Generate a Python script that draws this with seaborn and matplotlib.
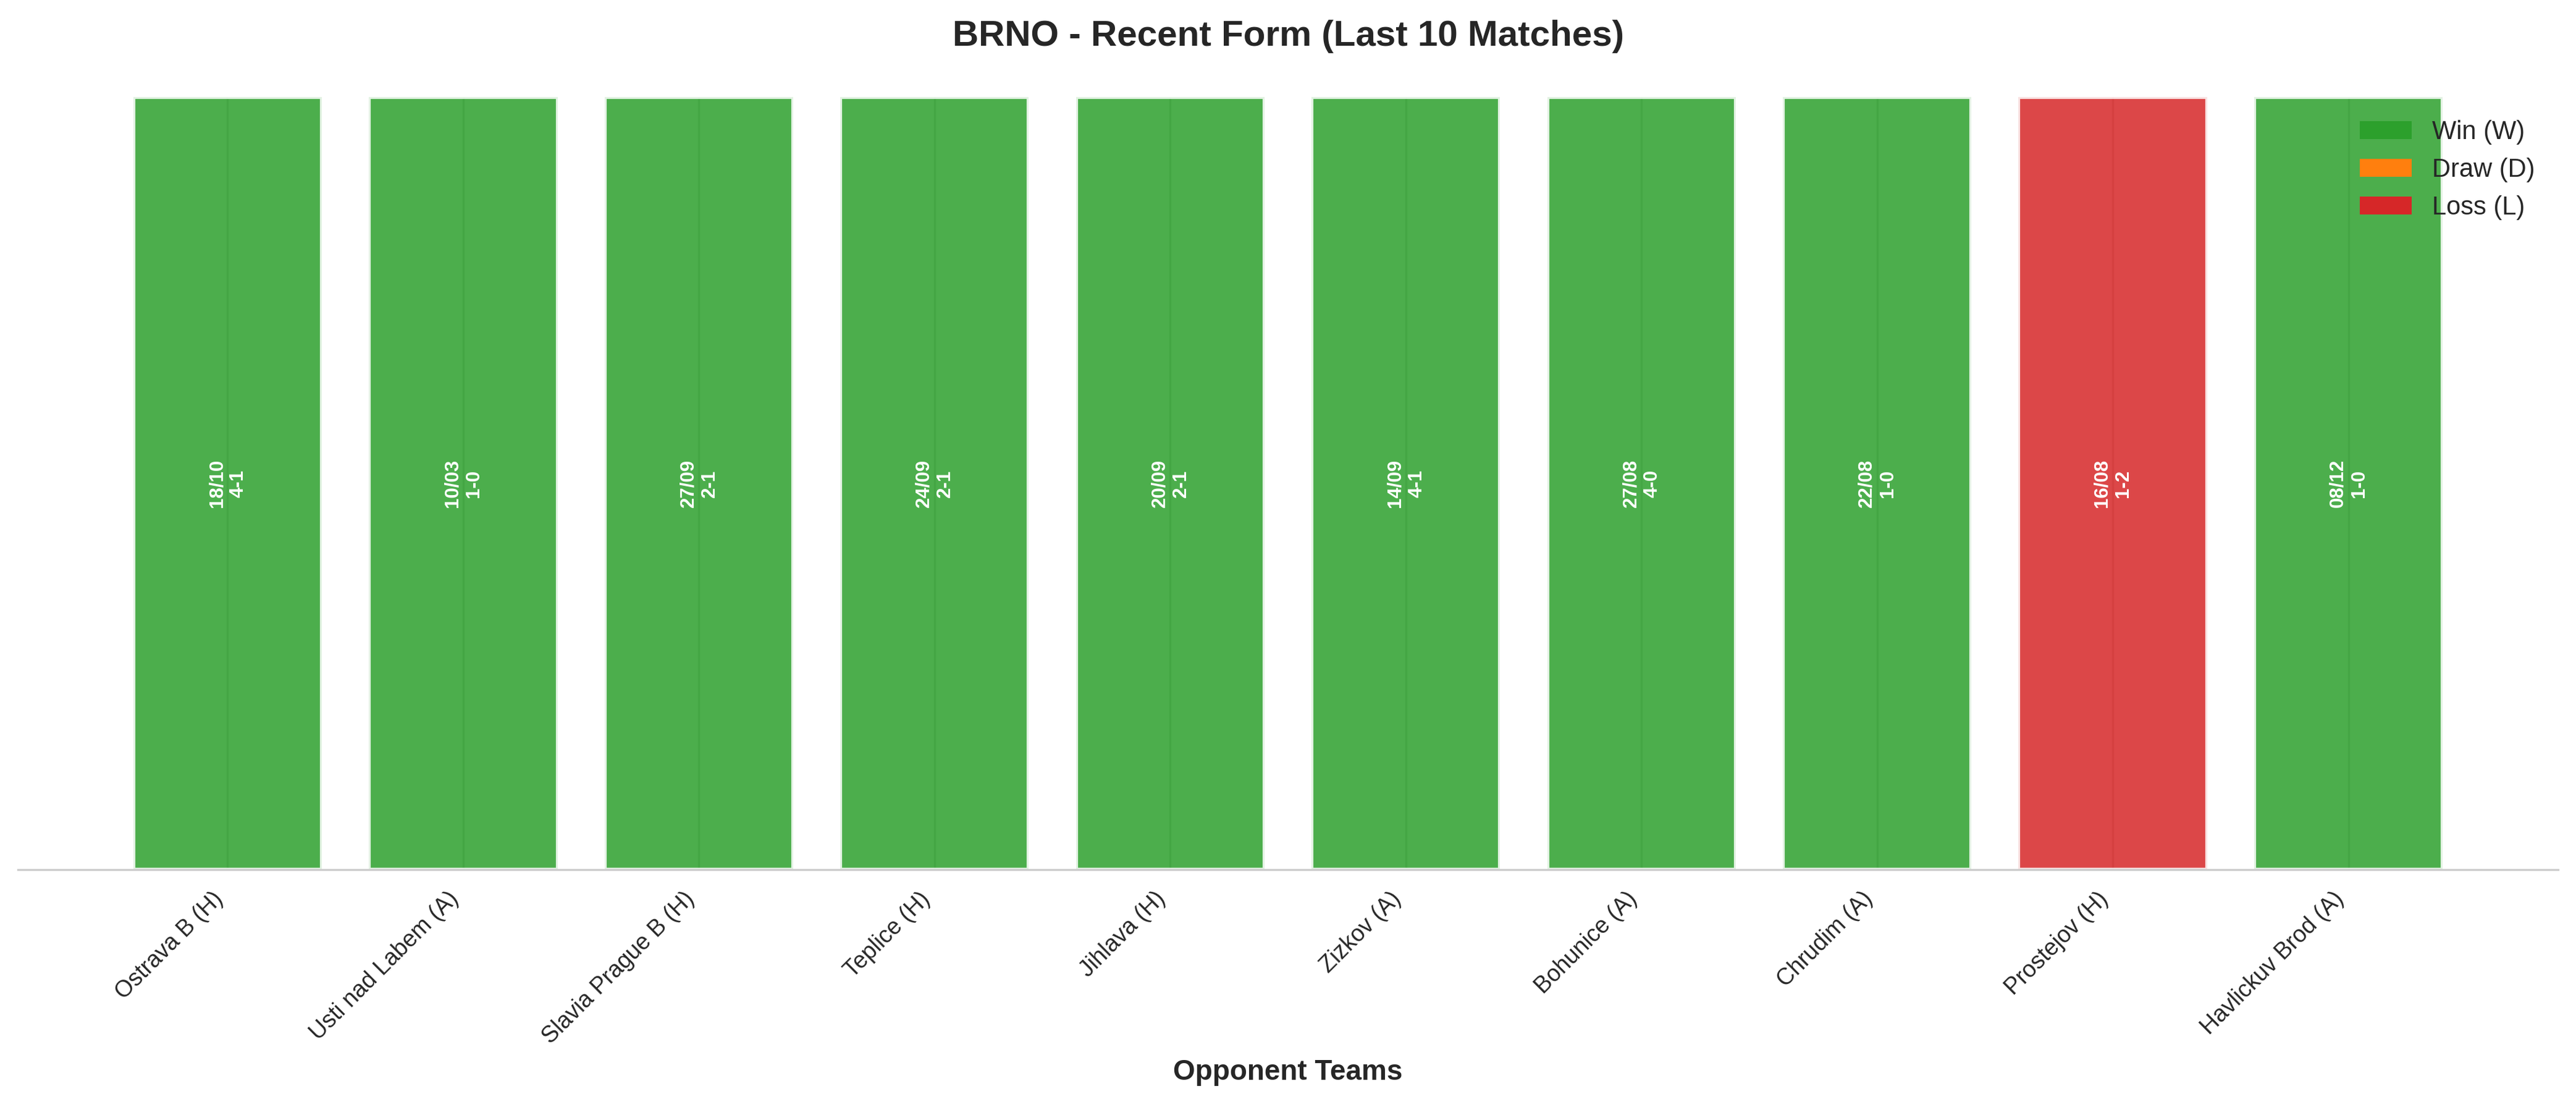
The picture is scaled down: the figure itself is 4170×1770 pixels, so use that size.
import matplotlib
matplotlib.use("Agg")
import matplotlib.pyplot as plt
from matplotlib.patches import Patch
import seaborn as sns

# Match data
teams = ['Ostrava B (H)', 'Usti nad Labem (A)', 'Slavia Prague B (H)', 'Teplice (H)',
         'Jihlava (H)', 'Zizkov (A)', 'Bohunice (A)', 'Chrudim (A)', 'Prostejov (H)',
         'Havlickuv Brod (A)']
dates = ['18/10', '10/03', '27/09', '24/09', '20/09', '14/09', '27/08', '22/08', '16/08', '08/12']
scores = ['4-1', '1-0', '2-1', '2-1', '2-1', '4-1', '4-0', '1-0', '1-2', '1-0']
results = ['W', 'W', 'W', 'W', 'W', 'W', 'W', 'W', 'L', 'W']
heights = [1, 1, 1, 1, 1, 1, 1, 1, 1, 1]

result_colors = {'W': '#2ca02c', 'D': '#ff7f0e', 'L': '#d62728'}
result_names = {'W': 'Win (W)', 'D': 'Draw (D)', 'L': 'Loss (L)'}

sns.set_style("whitegrid")
plt.rcParams['font.family'] = ['Liberation Sans', 'DejaVu Sans']

fig = plt.figure(figsize=(13.9, 5.9), dpi=300)
ax = fig.add_axes([0.00695, 0.2051, 0.9861, 0.7062])

sns.barplot(x=teams, y=heights, hue=results, hue_order=['W', 'D', 'L'],
            palette=result_colors, saturation=1, dodge=False, legend=False,
            errorbar=None, alpha=0.85, edgecolor='white', linewidth=1.5,
            width=0.8, ax=ax)

# date and score inside each bar
for i, (d, s) in enumerate(zip(dates, scores)):
    ax.text(i, 0.5, f'{d}\n{s}', rotation=90, ha='center', va='center',
            color='white', fontsize=7.5, fontweight='bold')

ax.xaxis.grid(True)
ax.set_axisbelow(True)
ax.set_xlim(-0.89, len(teams) - 0.11)
ax.set_ylim(0, 1)
ax.set_yticks([])
ax.set_ylabel('')
ax.set_xticks(range(len(teams)))
ax.set_xticklabels(teams, rotation=45, ha='right', fontsize=9)
ax.set_xlabel('Opponent Teams', fontsize=11, fontweight='bold')
ax.set_title('BRNO - Recent Form (Last 10 Matches)', fontsize=14, fontweight='bold', pad=20)

handles = [Patch(facecolor=result_colors[k], edgecolor='none', label=result_names[k])
           for k in ['W', 'D', 'L']]
ax.legend(handles=handles, loc='upper right', frameon=False, fontsize=10)

sns.despine(ax=ax, left=True)

fig.savefig('out.png', dpi=300)
